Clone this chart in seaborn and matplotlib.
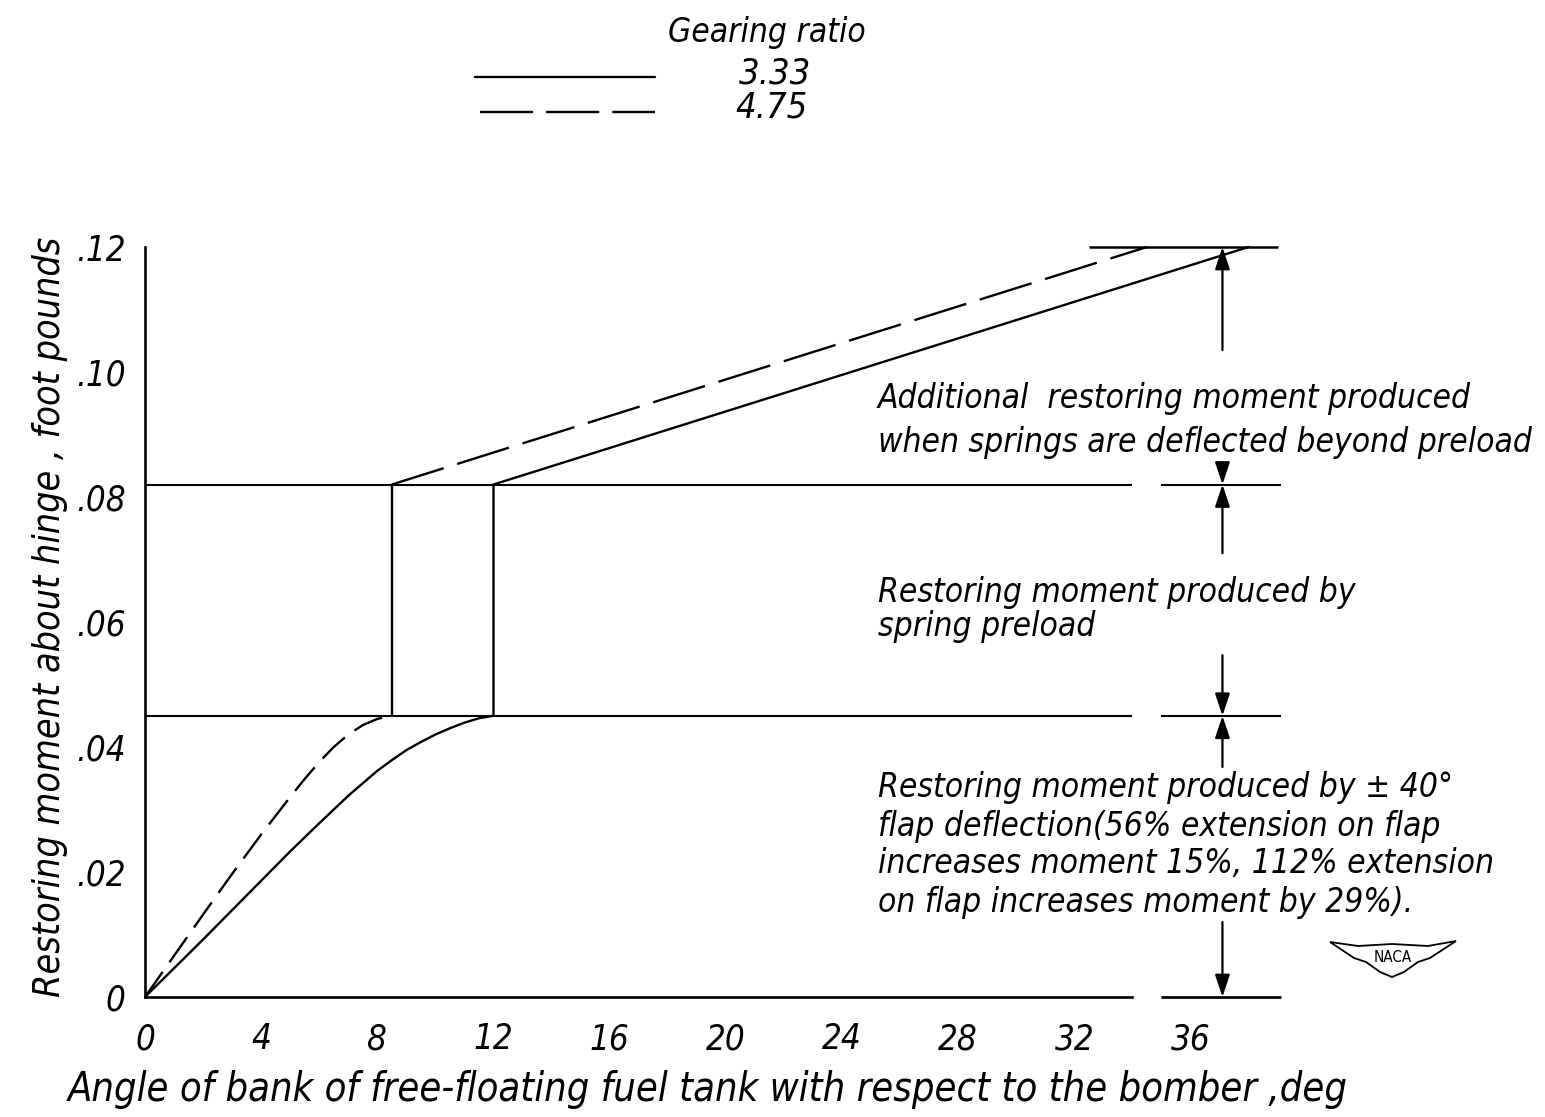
import numpy as np
import pandas as pd
import matplotlib
matplotlib.use("Agg")
import matplotlib.pyplot as plt
from matplotlib.lines import Line2D
from matplotlib.patches import Polygon
import seaborn as sns

# ---- data -------------------------------------------------------------
gearing_ratios = ["3.33", "4.75"]

# gearing ratio 3.33: flap-only build-up, then spring preload step, then spring deflection
curve_angle_333 = [0, 1, 2, 3, 4, 5, 6, 7, 8, 8.5, 9, 9.5, 10, 10.5, 11, 11.5, 12]
curve_moment_333 = [0, 0.0046, 0.0092, 0.0139, 0.0186, 0.0233, 0.0278, 0.0322,
                    0.0362, 0.0379, 0.0395, 0.0408, 0.0420, 0.0430, 0.0439,
                    0.0446, 0.045]
break_angle_333 = 12.0
full_angle_333 = 38.0

# gearing ratio 4.75
curve_angle_475 = [0, 1, 2, 3, 4, 5, 5.5, 6, 6.5, 7, 7.5, 8, 8.5]
curve_moment_475 = [0, 0.0066, 0.0132, 0.0197, 0.0260, 0.0320, 0.0349, 0.0376,
                    0.0400, 0.0420, 0.0435, 0.0445, 0.045]
break_angle_475 = 8.5
full_angle_475 = 34.5

flap_moment = 0.045       # +/-40 deg flap deflection
preload_moment = 0.082    # flap + spring preload
max_moment = 0.12

x_tick_values = [0, 4, 8, 12, 16, 20, 24, 28, 32, 36]
x_tick_labels = ["0", "4", "8", "12", "16", "20", "24", "28", "32", "36"]
y_tick_values = [0, 0.02, 0.04, 0.06, 0.08, 0.10, 0.12]
y_tick_labels = ["0", ".02", ".04", ".06", ".08", ".10", ".12"]

# ---- assemble long-form table ----------------------------------------
rows = []
def add(seg, kind, xs, ys):
    for x, y in zip(xs, ys):
        rows.append({"segment": seg, "kind": kind, "angle": x, "moment": y})

add("333", "solid",
    curve_angle_333 + [break_angle_333, full_angle_333],
    curve_moment_333 + [preload_moment, max_moment])
add("475a", "dash_short", curve_angle_475, curve_moment_475)
add("475b", "solid", [break_angle_475, break_angle_475], [flap_moment, preload_moment])
add("475c", "dash_long", [break_angle_475, full_angle_475], [preload_moment, max_moment])
df = pd.DataFrame(rows)

# ---- figure -----------------------------------------------------------
sns.set_theme(style="white")
plt.rcParams["font.family"] = ["DejaVu Sans"]
plt.rcParams["font.style"] = "italic"
plt.rcParams["font.stretch"] = "condensed"
for key in ["text.color", "axes.labelcolor", "xtick.color", "ytick.color",
            "xtick.labelcolor", "ytick.labelcolor"]:
    plt.rcParams[key] = "black"

W, H = 1545, 1117
fig = plt.figure(figsize=(W / 100, H / 100), dpi=100)
fig.patch.set_facecolor("white")

def fx(px):
    return px / W

def fy(py):
    return 1 - py / H

ax = fig.add_axes([fx(145), fy(997), 1394 / W, 812.5 / H])
ax.set_facecolor("white")
ax.set_xlim(0, 48)
ax.set_ylim(0, 0.13)

LW = 1.7
sns.lineplot(data=df, x="angle", y="moment", units="segment", style="kind",
             dashes={"solid": "", "dash_short": (13, 5), "dash_long": (23, 6)},
             color="black", linewidth=LW, estimator=None, sort=False,
             legend=False, ax=ax)

# level lines with the break near 34-35 deg
ax.hlines([flap_moment, preload_moment], 0, 34, color="black", lw=1.5)
ax.hlines([flap_moment, preload_moment], 35, 39.1, color="black", lw=1.5, clip_on=False)
ax.hlines(max_moment, 32.5, 39.0, color="black", lw=1.8, clip_on=False)
ax.plot([35, 39.1], [0, 0], color="black", lw=2.0, clip_on=False, solid_capstyle="butt")

# dimension arrows
xa = 37.1
arrow_kw = dict(arrowstyle="-|>,head_length=0.9,head_width=0.3", color="black",
                lw=1.6, mutation_scale=15, shrinkA=0, shrinkB=0)
for y_from, y_to in [(0.1035, max_moment), (0.0855, preload_moment),
                     (0.071, preload_moment), (0.0547, flap_moment),
                     (0.0368, flap_moment), (0.012, 0.0)]:
    ax.annotate("", xy=(xa, y_to), xytext=(xa, y_from), xycoords="data",
                arrowprops=arrow_kw, annotation_clip=False)

# axes styling
for s in ["top", "right"]:
    ax.spines[s].set_visible(False)
for s in ["left", "bottom"]:
    ax.spines[s].set_linewidth(1.9)
    ax.spines[s].set_color("black")
ax.spines["left"].set_bounds(0, max_moment)
ax.spines["bottom"].set_bounds(0, 34)

ax.set_xticks(x_tick_values)
ax.set_xticklabels(x_tick_labels)
ax.set_xticks([2, 6, 10, 14, 18, 22, 26, 30, 34], minor=True)
ax.set_yticks(y_tick_values)
ax.set_yticklabels(y_tick_labels)
ax.set_yticks([0.01, 0.03, 0.05, 0.07, 0.09, 0.11], minor=True)

ax.tick_params(axis="x", which="major", direction="in", length=16, width=1.4,
               pad=18, labelsize=25, color="black", labelcolor="black")
ax.tick_params(axis="x", which="minor", direction="in", length=11, width=1.4,
               color="black")
ax.tick_params(axis="y", which="major", direction="in", length=14, width=1.4,
               pad=14, labelsize=25, color="black", labelcolor="black")
ax.tick_params(axis="y", which="minor", direction="in", length=12, width=1.4,
               color="black")
ax.xaxis.get_major_ticks()[-1].tick1line.set_visible(False)
ax.xaxis.get_major_ticks()[0].tick1line.set_visible(False)
ax.yaxis.get_major_ticks()[0].tick1line.set_visible(False)

ax.set_xlabel("Angle of bank of free-floating fuel tank with respect to the bomber ,deg",
              fontsize=28.5, color="black")
ax.xaxis.set_label_coords((708 - 145) / 1394, (997 - 1070) / 812.5)
ax.set_ylabel("Restoring moment about hinge , foot pounds", fontsize=27, color="black")
ax.yaxis.set_label_coords((68 - 145) / 1394, (997 - 617) / 812.5)

# legend
tk = dict(fontsize=24, color="black")
fig.text(fx(767), fy(42), "Gearing ratio", ha="center", va="baseline", **tk)
fig.text(fx(775), fy(83), "3.33", ha="center", va="baseline", fontsize=26, color="black")
fig.text(fx(772), fy(118), "4.75", ha="center", va="baseline", fontsize=26, color="black")
fig.add_artist(Line2D([fx(475), fx(655)], [fy(77), fy(77)], color="black", lw=1.7))
fig.add_artist(Line2D([fx(480), fx(655)], [fy(112), fy(112)], color="black", lw=1.7,
                      dashes=(22.5, 5.5)))

# notes
notes = [
    ("Additional  restoring moment produced", 408),
    ("when springs are deflected beyond preload", 452),
    ("Restoring moment produced by", 602),
    ("spring preload", 636),
    ("Restoring moment produced by \u00b1 40\u00b0", 797),
    ("flap deflection(56% extension on flap", 836),
    ("increases moment 15%, 112% extension", 873),
    ("on flap increases moment by 29%).", 912),
]
for txt, base in notes:
    fig.text(fx(878), fy(base), txt, ha="left", va="baseline", **tk)

# NACA wing badge
badge = Polygon([(fx(1330), fy(942)), (fx(1358), fy(946)), (fx(1392), fy(944)),
                 (fx(1428), fy(946)), (fx(1456), fy(941)), (fx(1430), fy(958)),
                 (fx(1418), fy(962)), (fx(1404), fy(972)), (fx(1392), fy(977)),
                 (fx(1380), fy(972)), (fx(1366), fy(962)), (fx(1354), fy(958))],
                closed=True, fill=False, edgecolor="black", lw=1.3,
                transform=fig.transFigure)
fig.add_artist(badge)
fig.text(fx(1393), fy(958), "NACA", ha="center", va="center", fontsize=11,
         fontstyle="normal", color="black")

fig.savefig("out.png", dpi=100, facecolor="white")
